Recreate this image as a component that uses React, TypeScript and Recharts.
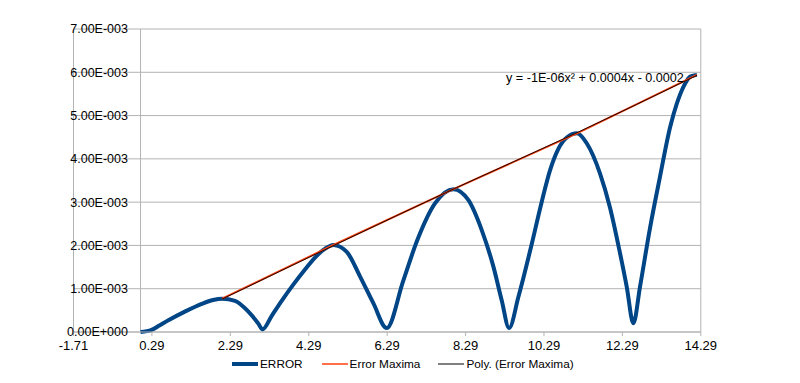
import React from 'react';
import {
  LineChart,
  Line,
  XAxis,
  YAxis,
  CartesianGrid,
  ReferenceLine,
  ReferenceDot,
} from 'recharts';

// ERROR curve (x, error)
const errX = [
  0, 0.28, 0.48, 0.71, 1.13, 1.56, 1.85, 2.08, 2.41, 2.75, 3.0, 3.11, 3.35, 3.6, 3.9, 4.2, 4.45,
  4.7, 4.92, 5.26, 5.6, 5.94, 6.28, 6.7, 7.05, 7.51, 7.98, 8.36, 8.7, 9.0, 9.21, 9.4, 9.64, 9.98,
  10.23, 10.45, 10.65, 10.88, 11.13, 11.38, 11.72, 11.97, 12.23, 12.4, 12.57, 12.74, 13.0, 13.25,
  13.51, 13.68, 13.85, 14.02, 14.19,
];
const errY = [
  0, 0.00005, 0.00015, 0.00027, 0.00047, 0.00065, 0.00074, 0.00077, 0.00072, 0.00047, 0.0002,
  0.00006, 0.00038, 0.00072, 0.0011, 0.00145, 0.00172, 0.00192, 0.00201, 0.00185, 0.00128,
  0.00066, 0.00009, 0.00118, 0.0021, 0.00297, 0.0033, 0.00305, 0.00236, 0.00151, 0.00074,
  0.00009, 0.00082, 0.00204, 0.003, 0.00375, 0.00422, 0.0045, 0.00459, 0.00436, 0.00366,
  0.00289, 0.00182, 0.00105, 0.0002, 0.00105, 0.00243, 0.00359, 0.00474, 0.00528, 0.00567,
  0.0059, 0.00594,
];

// Error maxima
const maxX = [2.08, 4.92, 7.98, 11.13, 14.19];
const maxY = [0.00077, 0.00201, 0.0033, 0.00459, 0.00594];

// Poly. (Error Maxima) trendline
const trendX = [2.08, 5.0, 8.0, 11.1, 14.19];
const trendY = [0.00076, 0.00203, 0.00331, 0.00459, 0.00593];

const xTicks = [-1.71, 0.29, 2.29, 4.29, 6.29, 8.29, 10.29, 12.29, 14.29];
const yTicks = [0, 0.001, 0.002, 0.003, 0.004, 0.005, 0.006, 0.007];
const equation = 'y = -1E-06x² + 0.0004x - 0.0002';

const errorData = errX.map((x, i) => ({ x, y: errY[i] }));
const maxData = maxX.map((x, i) => ({ x, y: maxY[i] }));
const trendData = trendX.map((x, i) => ({ x, y: trendY[i] }));

const W = 800;
const H = 383;
const Y_AXIS_W = 73.5;
const M = { top: 29, right: 99.2, left: 0, bottom: 21 };
const X_MIN = -1.71;
const X_MAX = 14.29;
const plotW = W - Y_AXIS_W - M.right;
// y labels sit left of the y axis, which crosses at x = 0
const yLabelX = Y_AXIS_W + ((0 - X_MIN) / (X_MAX - X_MIN)) * plotW - 12.6;

const FONT = '"Liberation Sans", Arial, sans-serif';
const GRID = '#b3b3b3';

function sci(v: number) {
  if (v === 0) return '0.00E+000';
  const e = Math.floor(Math.log10(v) + 1e-9);
  const m = (v / Math.pow(10, e)).toFixed(2);
  const sign = e < 0 ? '-' : '+';
  return `${m}E${sign}${String(Math.abs(e)).padStart(3, '0')}`;
}

function YTick(props: any) {
  const { y, payload } = props;
  return (
    <text x={yLabelX} y={y} dy="0.355em" textAnchor="end" fontSize={12.5} fill="#000" fontFamily={FONT}>
      {sci(payload?.value ?? 0)}
    </text>
  );
}

function EqLabel({ viewBox }: { viewBox?: { x: number; y: number } }) {
  if (!viewBox) return null;
  return (
    <text x={viewBox.x - 13} y={viewBox.y + 7} textAnchor="end" fontSize={12.6} fill="#000" fontFamily={FONT}>
      {equation}
    </text>
  );
}

const legendItems = [
  { name: 'ERROR', color: '#004586', width: 4, gap: 19 },
  { name: 'Error Maxima', color: '#ff420e', width: 1.5, gap: 18 },
  { name: 'Poly. (Error Maxima)', color: '#000', width: 1, gap: 0 },
];

export default function App() {
  return (
    <div style={{ position: 'relative', width: W, height: H, fontFamily: FONT }}>
      <style>{'body{margin:0}'}</style>
      <LineChart width={W} height={H} margin={M}>
        <CartesianGrid stroke={GRID} vertical={false} />
        <XAxis
          type="number"
          dataKey="x"
          domain={[X_MIN, X_MAX]}
          ticks={xTicks}
          allowDataOverflow
          height={30}
          stroke={GRID}
          tickSize={4}
          tickMargin={5}
          tick={{ fill: '#000', fontSize: 13, fontFamily: FONT }}
          tickFormatter={(v: number) => v.toFixed(2)}
        />
        <YAxis
          type="number"
          domain={[0, 0.007]}
          ticks={yTicks}
          width={Y_AXIS_W}
          axisLine={false}
          tickLine={false}
          interval={0}
          tick={<YTick />}
        />
        <ReferenceLine x={X_MIN} stroke={GRID} />
        <ReferenceLine x={X_MAX} stroke={GRID} />
        <ReferenceLine x={0} stroke={GRID} />
        <Line
          data={errorData}
          dataKey="y"
          type="monotone"
          stroke="#004586"
          strokeWidth={4}
          dot={false}
          isAnimationActive={false}
        />
        <Line
          data={maxData}
          dataKey="y"
          type="linear"
          stroke="#ff420e"
          strokeWidth={2}
          dot={false}
          isAnimationActive={false}
        />
        <Line
          data={trendData}
          dataKey="y"
          type="monotone"
          stroke="#000"
          strokeWidth={0.9}
          dot={false}
          isAnimationActive={false}
        />
        <ReferenceDot x={14.19} y={0.00594} r={0} stroke="none" label={<EqLabel />} />
      </LineChart>

      {/* Legend */}
      <div
        style={{
          position: 'absolute',
          left: 232,
          top: 357,
          display: 'flex',
          alignItems: 'center',
          fontSize: 11.8,
          color: '#000',
        }}
      >
        {legendItems.map((it) => (
          <div key={it.name} style={{ display: 'flex', alignItems: 'center', marginRight: it.gap }}>
            <svg width={26} height={14}>
              <line x1={0} y1={7} x2={26} y2={7} stroke={it.color} strokeWidth={it.width} />
            </svg>
            <span style={{ marginLeft: 2, lineHeight: '14px' }}>{it.name}</span>
          </div>
        ))}
      </div>
    </div>
  );
}
